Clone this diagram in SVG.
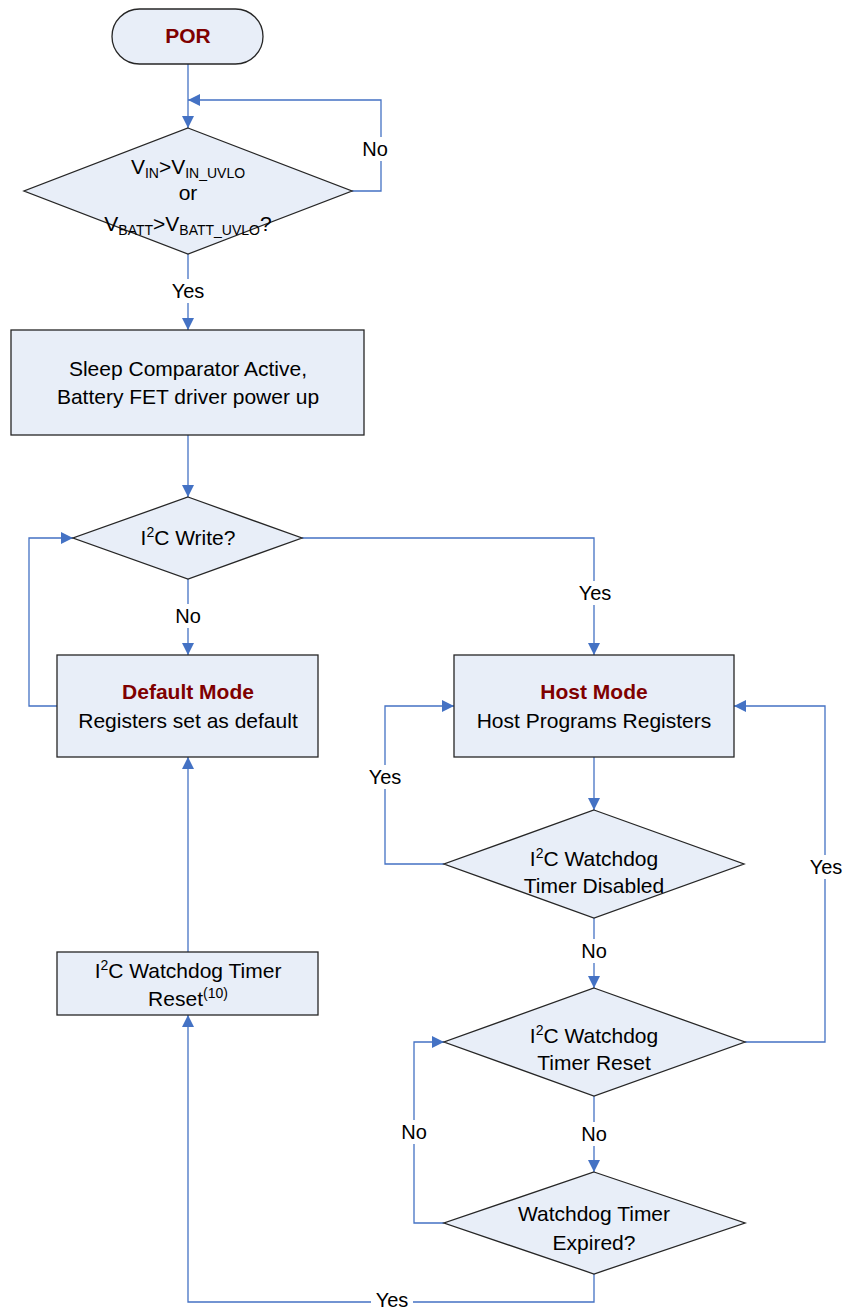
<svg xmlns="http://www.w3.org/2000/svg" width="847" height="1310" viewBox="0 0 847 1310">
<style>
.n{fill:#E8EEF8;stroke:#262626;stroke-width:1.3}
.c{fill:none;stroke:#4472C4;stroke-width:1.3}
.t{font-family:"Liberation Sans",Arial,sans-serif;font-size:21px;fill:#000;text-anchor:middle}
.b{font-weight:bold;fill:#7F0000}
.lb{font-family:"Liberation Sans",Arial,sans-serif;font-size:20px;fill:#000;text-anchor:middle}
.sub{font-size:14px}
</style>
<defs>
<marker id="a" viewBox="0 0 10 10" refX="10" refY="5" markerWidth="12" markerHeight="12" markerUnits="userSpaceOnUse" orient="auto">
<path d="M0,0 L10,5 L0,10 Z" fill="#4472C4"/>
</marker>
</defs>
<rect width="847" height="1310" fill="#fff"/>
<g id="connectors">
<path class="c" d="M188,64 V128" marker-end="url(#a)"/>
<path class="c" d="M352,191 H381 V100 H188" marker-end="url(#a)"/>
<path class="c" d="M188,254 V330" marker-end="url(#a)"/>
<path class="c" d="M188,435 V497" marker-end="url(#a)"/>
<path class="c" d="M188,579 V655" marker-end="url(#a)"/>
<path class="c" d="M302,538 H594 V655" marker-end="url(#a)"/>
<path class="c" d="M57,706 H29 V538 H73" marker-end="url(#a)"/>
<path class="c" d="M594,757 V810" marker-end="url(#a)"/>
<path class="c" d="M444,864 H385 V706 H454" marker-end="url(#a)"/>
<path class="c" d="M594,918 V988" marker-end="url(#a)"/>
<path class="c" d="M745,1042 H825 V706 H734" marker-end="url(#a)"/>
<path class="c" d="M594,1096 V1172" marker-end="url(#a)"/>
<path class="c" d="M444,1223 H414 V1042 H444" marker-end="url(#a)"/>
<path class="c" d="M594,1274 V1302 H188 V1015" marker-end="url(#a)"/>
<path class="c" d="M188,952 V757" marker-end="url(#a)"/>
<rect x="361" y="137" width="29" height="24" fill="#fff"/>
<text class="lb" x="375" y="156">No</text>
<rect x="167" y="279" width="42" height="24" fill="#fff"/>
<text class="lb" x="188" y="298">Yes</text>
<rect x="171" y="604" width="34" height="24" fill="#fff"/>
<text class="lb" x="188" y="623">No</text>
<rect x="575" y="581" width="40" height="24" fill="#fff"/>
<text class="lb" x="595" y="600">Yes</text>
<rect x="365" y="765" width="40" height="24" fill="#fff"/>
<text class="lb" x="385" y="784">Yes</text>
<rect x="805" y="855" width="41" height="24" fill="#fff"/>
<text class="lb" x="826" y="874">Yes</text>
<rect x="577" y="939" width="34" height="24" fill="#fff"/>
<text class="lb" x="594" y="958">No</text>
<rect x="577" y="1122" width="34" height="24" fill="#fff"/>
<text class="lb" x="594" y="1141">No</text>
<rect x="397" y="1120" width="34" height="24" fill="#fff"/>
<text class="lb" x="414" y="1139">No</text>
<rect x="371" y="1290" width="42" height="20" fill="#fff"/>
<text class="lb" x="392" y="1307">Yes</text>
</g>
<g id="por">
<rect class="n" x="112" y="9" width="151" height="55" rx="27.5"/>
<text class="t b" x="188" y="43">POR</text>
</g>
<g id="uvlo">
<polygon class="n" points="188,128 352,191 188,254 24,191"/>
<text class="t" x="188" y="174">V<tspan class="sub" dy="4">IN</tspan><tspan dy="-4">&gt;V</tspan><tspan class="sub" dy="4">IN_UVLO</tspan></text>
<text class="t" x="188" y="200">or</text>
<text class="t" x="188" y="231">V<tspan class="sub" dy="4">BATT</tspan><tspan dy="-4">&gt;V</tspan><tspan class="sub" dy="4">BATT_UVLO</tspan><tspan dy="-4">?</tspan></text>
</g>
<g id="sleep">
<rect class="n" x="11" y="330" width="353" height="105"/>
<text class="t" x="188" y="376">Sleep Comparator Active,</text>
<text class="t" x="188" y="404">Battery FET driver power up</text>
</g>
<g id="i2cwrite">
<polygon class="n" points="188,497 302,538 188,579 73,538"/>
<text class="t" x="188" y="545">I<tspan class="sub" dy="-8">2</tspan><tspan dy="8">C Write?</tspan></text>
</g>
<g id="default">
<rect class="n" x="57" y="655" width="261" height="102"/>
<text class="t b" x="188" y="699">Default Mode</text>
<text class="t" x="188" y="728">Registers set as default</text>
</g>
<g id="host">
<rect class="n" x="454" y="655" width="280" height="102"/>
<text class="t b" x="594" y="699">Host Mode</text>
<text class="t" x="594" y="728">Host Programs Registers</text>
</g>
<g id="wddisabled">
<polygon class="n" points="594,810 744,864 594,918 444,864"/>
<text class="t" x="594" y="866">I<tspan class="sub" dy="-8">2</tspan><tspan dy="8">C Watchdog</tspan></text>
<text class="t" x="594" y="893">Timer Disabled</text>
</g>
<g id="wdreset">
<polygon class="n" points="594,988 745,1042 594,1096 444,1042"/>
<text class="t" x="594" y="1043">I<tspan class="sub" dy="-8">2</tspan><tspan dy="8">C Watchdog</tspan></text>
<text class="t" x="594" y="1070">Timer Reset</text>
</g>
<g id="expired">
<polygon class="n" points="594,1172 745,1223 594,1274 444,1223"/>
<text class="t" x="594" y="1221">Watchdog Timer</text>
<text class="t" x="594" y="1250">Expired?</text>
</g>
<g id="wdresetbox">
<rect class="n" x="57" y="952" width="261" height="63"/>
<text class="t" x="188" y="978">I<tspan class="sub" dy="-8">2</tspan><tspan dy="8">C Watchdog Timer</tspan></text>
<text class="t" x="188" y="1006">Reset<tspan class="sub" dy="-8">(10)</tspan></text>
</g>
</svg>
